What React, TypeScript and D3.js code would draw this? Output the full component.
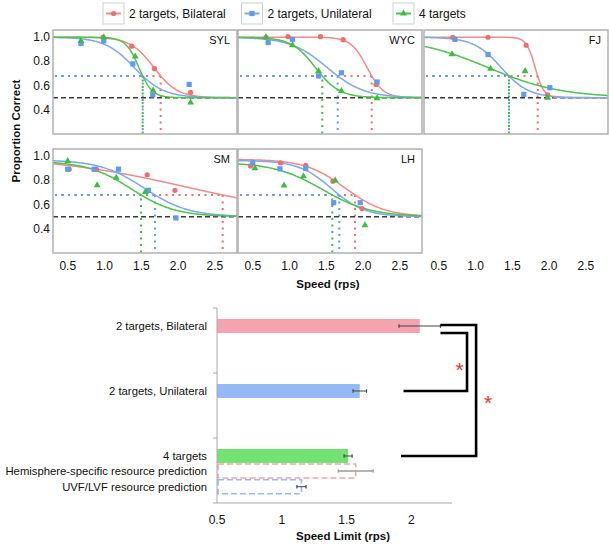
import React from 'react';
import * as d3 from 'd3';

// ---------- DATA ----------
const subjects = ["SYL", "WYC", "FJ", "SM", "LH"];
const conditions = ["2 targets, Bilateral", "2 targets, Unilateral", "4 targets"];
const speedTicks = [0.5, 1.0, 1.5, 2.0, 2.5];
const propTicks = [0.4, 0.6, 0.8, 1.0];
const chanceLevel = 0.5;
const criterion = 0.68;

// fitted psychometric parameters per subject: [bilateral, unilateral, 4 targets]
const thresholds = [
  [1.763, 1.519, 1.519],
  [2.117, 1.655, 1.445],
  [1.845, 1.455, 1.455],
  [2.606, 1.686, 1.496],
  [1.89, 1.676, 1.581],
];
const slopes = [
  [0.16, 0.2, 0.09],
  [0.11, 0.25, 0.163],
  [0.06, 0.187, 0.5],
  [0.915, 0.3, 0.3],
  [0.272, 0.226, 0.33],
];
const upperAsymptotes = [
  [1, 1, 1],
  [1, 1, 1],
  [1, 1, 1],
  [1, 0.97, 0.96],
  [0.975, 0.965, 0.95],
];

// observed points [speed, proportion correct]
const sylBilateral = [[0.98, 1.0], [1.37, 0.926], [1.68, 0.74], [2.17, 0.545]];
const sylUnilateral = [[0.68, 0.948], [0.99, 0.97], [1.385, 0.78], [1.655, 0.523], [2.15, 0.61]];
const sylFour = [[0.68, 0.97], [0.99, 1.0], [1.417, 0.84], [1.66, 0.56], [2.17, 0.46]];

const wycBilateral = [[0.68, 1.0], [0.98, 1.005], [1.42, 1.005], [1.73, 0.98], [2.175, 0.61]];
const wycUnilateral = [[0.71, 0.956], [1.04, 0.983], [1.395, 0.68], [1.705, 0.706], [2.19, 0.63]];
const wycFour = [[0.68, 1.0], [1.04, 0.934], [1.395, 0.72], [1.705, 0.556], [2.19, 0.495]];

const fjBilateral = [[0.69, 1.0], [1.17, 1.0], [1.688, 0.934], [1.98, 0.523]];
const fjUnilateral = [[0.72, 0.983], [1.17, 0.857], [1.656, 0.528], [2.01, 0.583]];
const fjFour = [[0.68, 0.86], [1.205, 0.74], [1.674, 0.72], [1.98, 0.5]];

const smBilateral = [[0.52, 0.893], [0.89, 0.893], [1.58, 0.847], [1.957, 0.718]];
const smUnilateral = [[0.5, 0.893], [0.86, 0.893], [1.19, 0.893], [1.597, 0.718], [1.97, 0.49]];
const smFour = [[0.5, 0.96], [0.9, 0.76], [1.16, 0.822], [1.555, 0.704]];

const lhBilateral = [[0.47, 0.92], [0.88, 0.945], [1.22, 0.925], [1.59, 0.794], [1.985, 0.567]];
const lhUnilateral = [[0.5, 0.945], [0.87, 0.896], [1.22, 0.9], [1.6, 0.616], [1.96, 0.616]];
const lhFour = [[0.53, 0.9], [0.926, 0.759], [1.19, 0.835], [1.62, 0.8], [2.025, 0.43]];

const points = [
  [sylBilateral, sylUnilateral, sylFour],
  [wycBilateral, wycUnilateral, wycFour],
  [fjBilateral, fjUnilateral, fjFour],
  [smBilateral, smUnilateral, smFour],
  [lhBilateral, lhUnilateral, lhFour],
];

// bottom chart
const barLabels = [
  "2 targets, Bilateral",
  "2 targets, Unilateral",
  "4 targets",
  "Hemisphere-specific resource prediction",
  "UVF/LVF resource prediction",
];
const barValues = [2.065, 1.602, 1.512, 1.571, 1.152];
const barErrors = [0.16, 0.052, 0.031, 0.135, 0.035];
const limitTicks = [0.5, 1, 1.5, 2];

// ---------- STYLE / LAYOUT ----------
const FONT = "Arial, 'Liberation Sans', Helvetica, sans-serif";
const markerColors = ["#F26E6E", "#5E9BF1", "#3EBE3E"];
const lineColors = ["#F28A8A", "#7AA9F2", "#4EC44E"];
const barFills = ["#F5A3AE", "#94B9F5", "#72E272"];
const predStrokes = ["#F5A3AE", "#94B9F5"];

const panelPos = [[53, 30], [238, 30], [424, 30], [53, 149], [238, 149]];
const PW = 184;
const PH = 104;

function psy(x: number, T: number, s: number, top: number) {
  const zT = Math.log((top - chanceLevel) / (criterion - chanceLevel) - 1);
  const m = T - s * zT;
  return chanceLevel + (top - chanceLevel) / (1 + Math.exp((x - m) / s));
}

function Marker({ kind, x, y, color }: { kind: number; x: number; y: number; color: string }) {
  if (kind === 0) return <circle cx={x} cy={y} r={2.6} fill={color} />;
  if (kind === 1) return <rect x={x - 2.6} y={y - 2.6} width={5.2} height={5.2} fill={color} />;
  const p = d3.symbol(d3.symbolTriangle, 21)() as string;
  return <path d={p} transform={`translate(${x},${y})`} fill={color} />;
}

function Panel({ idx }: { idx: number }) {
  const [x0, y0] = panelPos[idx];
  const xs = d3.scaleLinear().domain([0.3, 2.8]).range([x0, x0 + PW]);
  const ys = d3.scaleLinear().domain([0.2, 1.06]).range([y0 + PH, y0]);
  const grid = d3.range(0.3, 2.8001, 0.01);
  const clipId = `clip${idx}`;
  const yc = ys(criterion);
  const order = [0, 2, 1];
  return (
    <g>
      <defs>
        <clipPath id={clipId}>
          <rect x={x0} y={y0} width={PW} height={PH} />
        </clipPath>
      </defs>
      <rect x={x0} y={y0} width={PW} height={PH} fill="white" />
      <g clipPath={`url(#${clipId})`}>
        {order.map((c) => (
          <line key={`h${c}`} x1={x0 + 2} x2={xs(thresholds[idx][c])} y1={yc} y2={yc}
            stroke={markerColors[c]} strokeWidth={2} strokeDasharray="2 4.5" />
        ))}
        {order.map((c) => (
          <line key={`v${c}`} x1={xs(thresholds[idx][c])} x2={xs(thresholds[idx][c])} y1={yc} y2={y0 + PH}
            stroke={markerColors[c]} strokeWidth={2} strokeDasharray="2 4.5"
            strokeDashoffset={c === 2 ? 3 : 0} />
        ))}
        <line x1={x0} x2={x0 + PW} y1={ys(chanceLevel)} y2={ys(chanceLevel)}
          stroke="#3a3a3a" strokeWidth={1.5} strokeDasharray="5 3" />
        {[0, 1, 2].map((c) => (
          <path key={`c${c}`}
            d={d3.line<number>().x((d) => xs(d)).y((d) => ys(psy(d, thresholds[idx][c], slopes[idx][c], upperAsymptotes[idx][c])))(grid) as string}
            fill="none" stroke={lineColors[c]} strokeWidth={1.5} />
        ))}
        {[0, 1, 2].map((c) =>
          points[idx][c].map((p, i) => (
            <Marker key={`m${c}-${i}`} kind={c} x={xs(p[0])} y={ys(p[1])} color={markerColors[c]} />
          ))
        )}
      </g>
      <rect x={x0} y={y0} width={PW} height={PH} fill="none" stroke="#b0b0b0" strokeWidth={1.5} />
      <text x={x0 + PW - 7} y={y0 + 14} textAnchor="end" fontSize={11} fontFamily={FONT} fill="#111">
        {subjects[idx]}
      </text>
      {idx === 0 || idx === 3 ? (
        propTicks.map((t) => (
          <text key={t} x={x0 - 3} y={ys(t) + 4} textAnchor="end" fontSize={12} fontFamily={FONT} fill="#111">
            {t.toFixed(1)}
          </text>
        ))
      ) : null}
    </g>
  );
}

export default function App() {
  const colStarts = [53, 238, 424];
  const tickY = 270;

  const xb = d3.scaleLinear().domain([0.5, 2.314]).range([217, 452]);
  const barCenters = [326, 391, 456, 471, 486.7];
  const BH = 14;
  const axisTop = 308;
  const axisBottom = 503;
  const bandTicks = [308, 373, 438, 503];

  return (
    <svg width={609} height={544} style={{ position: 'absolute', left: 0, top: 0, background: 'white' }}>
      {conditions.map((c, i) => {
        const bx = [103, 241.5, 393][i];
        const by = 3;
        return (
          <g key={c}>
            <rect x={bx} y={by} width={21} height={21} fill="white" stroke="#cfcfcf" strokeWidth={1} />
            <line x1={bx + 3} x2={bx + 18} y1={by + 10.5} y2={by + 10.5} stroke={lineColors[i]} strokeWidth={2} />
            <Marker kind={i} x={bx + 10.5} y={by + 10.5} color={markerColors[i]} />
            <text x={bx + 26} y={18} fontSize={12} fontFamily={FONT} fill="#111">{c}</text>
          </g>
        );
      })}

      {subjects.map((s, i) => <Panel key={s} idx={i} />)}

      {colStarts.map((cx0, ci) => {
        const xs = d3.scaleLinear().domain([0.3, 2.8]).range([cx0, cx0 + PW]);
        return speedTicks.map((t) => (
          <text key={`${ci}-${t}`} x={xs(t)} y={tickY} textAnchor="middle" fontSize={12} fontFamily={FONT} fill="#111">
            {t.toFixed(1)}
          </text>
        ));
      })}
      <text x={328} y={288} textAnchor="middle" fontSize={11.5} fontWeight="bold" fontFamily={FONT} fill="#111">
        Speed (rps)
      </text>
      <text transform="translate(19.5,131) rotate(-90)" textAnchor="middle" fontSize={11.5} fontWeight="bold" fontFamily={FONT} fill="#111">
        Proportion Correct
      </text>

      {barLabels.map((lab, i) => {
        const yc = barCenters[i];
        const x1 = xb(barValues[i]);
        const pred = i >= 3;
        const errColor = i === 3 ? "#9a9a9a" : "#444";
        const errW = i === 3 ? 1.5 : 1;
        return (
          <g key={lab}>
            {pred ? (
              <rect x={xb(0.5) + 1} y={yc - BH / 2} width={x1 - xb(0.5) - 1} height={BH}
                fill="white" stroke={predStrokes[i - 3]} strokeWidth={1.6} strokeDasharray="6 3" />
            ) : (
              <rect x={xb(0.5)} y={yc - BH / 2} width={x1 - xb(0.5)} height={BH} fill={barFills[i]} />
            )}
            <line x1={xb(barValues[i] - barErrors[i])} x2={xb(barValues[i] + barErrors[i])} y1={yc} y2={yc}
              stroke={errColor} strokeWidth={errW} />
            <line x1={xb(barValues[i] - barErrors[i])} x2={xb(barValues[i] - barErrors[i])} y1={yc - 1.8} y2={yc + 1.8}
              stroke={errColor} strokeWidth={1.2} />
            <line x1={xb(barValues[i] + barErrors[i])} x2={xb(barValues[i] + barErrors[i])} y1={yc - 1.8} y2={yc + 1.8}
              stroke={errColor} strokeWidth={1.2} />
            <text x={207} y={yc + 4} textAnchor="end" fontSize={11.3} fontFamily={FONT} fill="#111">{lab}</text>
          </g>
        );
      })}
      <line x1={xb(0.5)} x2={xb(0.5)} y1={axisTop} y2={axisBottom} stroke="#aaa" strokeWidth={1} />
      {bandTicks.map((t) => (
        <line key={t} x1={xb(0.5) - 4} x2={xb(0.5)} y1={t} y2={t} stroke="#aaa" strokeWidth={1} />
      ))}
      <line x1={xb(0.5)} x2={xb(2.314)} y1={axisBottom} y2={axisBottom} stroke="#aaa" strokeWidth={1} />
      {limitTicks.map((t) => (
        <text key={t} x={xb(t)} y={524} textAnchor="middle" fontSize={12} fontFamily={FONT} fill="#111">{String(t)}</text>
      ))}
      <text x={343} y={540} textAnchor="middle" fontSize={11.5} fontWeight="bold" fontFamily={FONT} fill="#111">
        Speed Limit (rps)
      </text>

      <path d={`M${xb(barValues[0] + barErrors[0])},${barCenters[0] + 7} H${xb(2.43)} V${barCenters[1]} H${xb(1.94)}`}
        fill="none" stroke="#000" strokeWidth={2.6} />
      <path d={`M${xb(barValues[0] + barErrors[0])},${barCenters[0] - 1} H${xb(2.5)} V${barCenters[2]} H${xb(1.92)}`}
        fill="none" stroke="#000" strokeWidth={2.6} />
      <text x={459.5} y={377} textAnchor="middle" fontSize={21} fontFamily={FONT} fill="#E8352A">*</text>
      <text x={488} y={410} textAnchor="middle" fontSize={21} fontFamily={FONT} fill="#E8352A">*</text>
    </svg>
  );
}
